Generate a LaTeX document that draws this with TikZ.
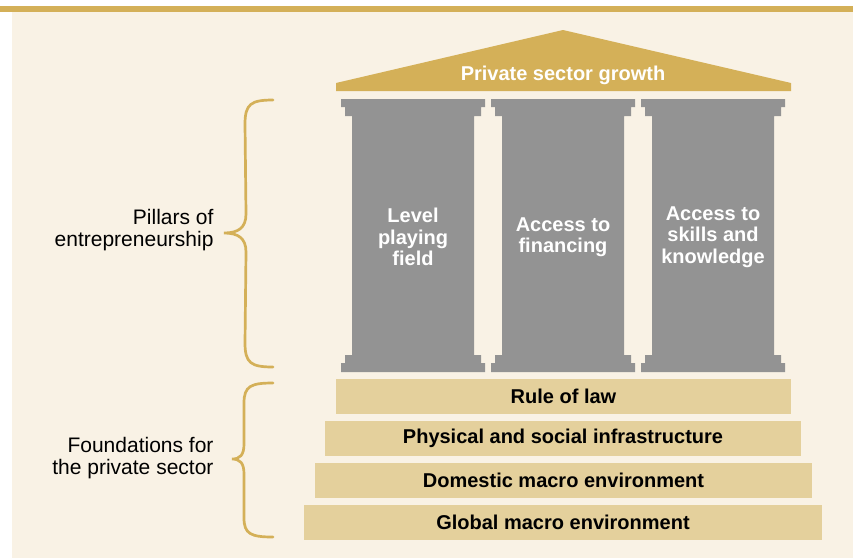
\documentclass[tikz,border=0pt]{standalone}
\usepackage{fontspec}
\setmainfont{Liberation Sans}
\usepackage{tikz}
\usetikzlibrary{positioning}
\definecolor{gold}{RGB}{212,176,88}
\definecolor{cream}{RGB}{249,242,229}
\definecolor{sand}{RGB}{228,208,156}
\definecolor{stone}{RGB}{147,147,147}
\tikzstyle{bar} = [rectangle, fill=sand, minimum height=35pt, inner sep=0pt,
  text centered, font=\fontsize{20}{22}\selectfont\bfseries]
\tikzstyle{pillartext} = [align=center, text=white,
  font=\fontsize{20}{21.5}\selectfont\bfseries]
\tikzstyle{side} = [align=right, anchor=east, font=\fontsize{21}{22}\selectfont]
\tikzstyle{brace} = [draw=gold, line width=2.7pt, line cap=round]

\begin{document}
\begin{tikzpicture}[x=1pt, y=-1pt]
    \useasboundingbox (0,0) rectangle (853,558);
    \fill[cream] (12,12) rectangle (853,558);
    \fill[gold] (0,6) rectangle (853,12);
    % roof
    \fill[gold] (336,91) -- (336,83) -- (563,30) -- (791,83) -- (791,91) -- cycle;
    \node[text=white, font=\fontsize{20}{22}\selectfont\bfseries] (roof) at (563,75) {Private sector growth};
    % pillars
    \foreach \cx in {413,563,713} {
      \fill[stone] (\cx-72,99) -- (\cx+72,99) -- (\cx+72,107) -- (\cx+68,107) -- (\cx+68,116)
        -- (\cx+61,116) -- (\cx+61,355) -- (\cx+68,355) -- (\cx+68,363) -- (\cx+72,363)
        -- (\cx+72,372) -- (\cx-72,372) -- (\cx-72,363) -- (\cx-68,363) -- (\cx-68,355)
        -- (\cx-61,355) -- (\cx-61,116) -- (\cx-68,116) -- (\cx-68,107) -- (\cx-72,107) -- cycle;
    }
    \node[pillartext] (level) at (413,237) {Level\\playing\\field};
    \node[pillartext] (finance) at (563,237) {Access to\\financing};
    \node[pillartext] (skills) at (713,237) {Access to\\skills and\\knowledge};
    % foundation steps
    \node[bar, minimum width=455pt] (law) at (563.5,396.5) {Rule of law};
    \node[bar, minimum width=476pt] (infra) at (563,438.5) {Physical and social infrastructure};
    \node[bar, minimum width=497pt] (domestic) at (563.5,480.5) {Domestic macro environment};
    \node[bar, minimum width=518pt] (global) at (563,522.5) {Global macro environment};
    % braces and their labels
    \draw[brace] (273,100) .. controls (251,100) and (245,104) .. (245,124)
      -- (246,214) .. controls (246,228) and (238,233) .. (224,233)
      .. controls (238,233) and (246,238) .. (246,252)
      -- (245,343) .. controls (245,363) and (251,367) .. (273,367);
    \draw[brace] (273,383) .. controls (251,383) and (244,386) .. (244,403)
      -- (244,444) .. controls (244,455) and (240,459) .. (232,459)
      .. controls (240,459) and (244,463) .. (244,474)
      -- (244,518) .. controls (244,534) and (251,537) .. (273,537);
    \node[side] (pillars) at (217,230) {Pillars of\\entrepreneurship};
    \node[side] (found) at (217,458) {Foundations for\\the private sector};
\end{tikzpicture}
\end{document}
